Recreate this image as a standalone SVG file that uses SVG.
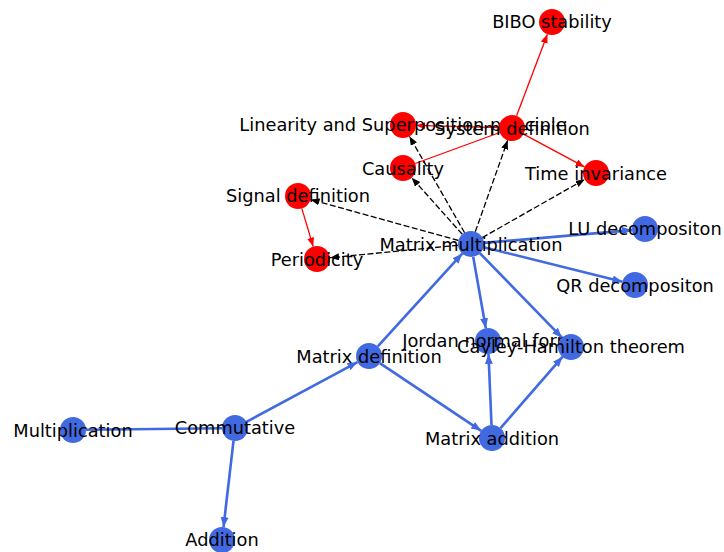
<svg xmlns="http://www.w3.org/2000/svg" width="724" height="552" viewBox="0 0 724 552">
<defs>
<style>
.b{stroke:#4169E1;stroke-width:2.6;fill:none}
.r{stroke:#FF0000;stroke-width:1.3;fill:none}
.k{stroke:#000;stroke-width:1.3;fill:none;stroke-dasharray:6,2.5}
.nb{fill:#4169E1}
.nr{fill:#FF0000}
text{font-family:"DejaVu Sans",sans-serif;font-size:17.8px;fill:#000;text-anchor:middle;dominant-baseline:central}
</style>
<marker id="ab" markerUnits="userSpaceOnUse" markerWidth="11" markerHeight="9" refX="10" refY="4" orient="auto"><path d="M0,0 L10,4 L0,8 z" fill="#4169E1"/></marker>
<marker id="ar" markerUnits="userSpaceOnUse" markerWidth="10" markerHeight="8" refX="9" refY="3.5" orient="auto"><path d="M0,0 L9,3.5 L0,7 z" fill="#FF0000"/></marker>
<marker id="ak" markerUnits="userSpaceOnUse" markerWidth="10" markerHeight="8" refX="9" refY="3.5" orient="auto"><path d="M0,0 L9,3.5 L0,7 z" fill="#000"/></marker>
</defs>
<rect width="724" height="552" fill="#fff"/>
<g id="edges">
<path class="b" d="M222,428.2 L86,429.8"/>
<path class="b" d="M233.5,440.9 L223.5,527.1" marker-end="url(#ab)"/>
<path class="b" d="M246.5,421.8 L357.5,362.1" marker-end="url(#ab)"/>
<path class="b" d="M377.8,346.4 L462.2,253.6" marker-end="url(#ab)"/>
<path class="b" d="M379.8,363.2 L481.2,430.8" marker-end="url(#ab)"/>
<path class="b" d="M484,242.9 L632,230.1" marker-end="url(#ab)"/>
<path class="b" d="M483.6,247.2 L622.4,281.8" marker-end="url(#ab)"/>
<path class="b" d="M473.2,256.8 L485.8,328.2" marker-end="url(#ab)"/>
<path class="b" d="M480,253.3 L562,337.7" marker-end="url(#ab)"/>
<path class="b" d="M491.5,425 L488.5,354" marker-end="url(#ab)"/>
<path class="b" d="M500.5,428.2 L562.5,356.8" marker-end="url(#ab)"/>
<path class="r" d="M516.6,115.8 L547.4,34.2" marker-end="url(#ar)"/>
<path class="r" d="M523.5,134.1 L584.5,166.9" marker-end="url(#ar)"/>
<path class="r" d="M499.8,132.5 L415.2,163.5"/>
<path class="r" d="M499,127.6 L416,125.4" marker-end="url(#ar)"/>
<path class="r" d="M301.8,208.4 L313.2,246.6" marker-end="url(#ar)"/>
<path class="k" d="M458.5,240.5 L310.5,199.5" marker-end="url(#ak)"/>
<path class="k" d="M458,245.3 L330,257.7" marker-end="url(#ak)"/>
<path class="k" d="M462.3,234.3 L411.7,177.7" marker-end="url(#ak)"/>
<path class="k" d="M464.6,232.7 L409.4,136.3" marker-end="url(#ak)"/>
<path class="k" d="M475.3,231.7 L507.7,140.3" marker-end="url(#ak)"/>
<path class="k" d="M482.3,237.6 L584.7,179.4" marker-end="url(#ak)"/>
</g>
<g id="n-multiplication"><circle class="nb" cx="73" cy="430" r="13"/><text x="73" y="430">Multiplication</text></g>
<g id="n-commutative"><circle class="nb" cx="235" cy="428" r="13"/><text x="235" y="427">Commutative</text></g>
<g id="n-addition"><circle class="nb" cx="222" cy="540" r="13"/><text x="222" y="539">Addition</text></g>
<g id="n-matrix-definition"><circle class="nb" cx="369" cy="356" r="13"/><text x="369" y="356">Matrix definition</text></g>
<g id="n-matrix-addition"><circle class="nb" cx="492" cy="438" r="13"/><text x="492" y="438">Matrix addition</text></g>
<g id="n-jordan"><circle class="nb" cx="488" cy="341" r="13"/><text x="488" y="340">Jordan normal form</text></g>
<g id="n-cayley"><circle class="nb" cx="571" cy="347" r="13"/><text x="571" y="346">Cayley-Hamilton theorem</text></g>
<g id="n-matrix-multiplication"><circle class="nb" cx="471" cy="244" r="13"/><text x="471" y="244">Matrix multiplication</text></g>
<g id="n-lu"><circle class="nb" cx="645" cy="229" r="13"/><text x="645" y="228">LU decompositon</text></g>
<g id="n-qr"><circle class="nb" cx="635" cy="285" r="13"/><text x="635" y="285">QR decompositon</text></g>
<g id="n-periodicity"><circle class="nr" cx="317" cy="259" r="13"/><text x="317" y="259">Periodicity</text></g>
<g id="n-signal"><circle class="nr" cx="298" cy="196" r="13"/><text x="298" y="195">Signal definition</text></g>
<g id="n-causality"><circle class="nr" cx="403" cy="168" r="13"/><text x="403" y="168">Causality</text></g>
<g id="n-linearity"><circle class="nr" cx="403" cy="125" r="13"/><text x="403" y="124">Linearity and Superposition principle</text></g>
<g id="n-system"><circle class="nr" cx="512" cy="128" r="13"/><text x="512" y="128">System definition</text></g>
<g id="n-time"><circle class="nr" cx="596" cy="173" r="13"/><text x="596" y="173">Time invariance</text></g>
<g id="n-bibo"><circle class="nr" cx="552" cy="22" r="13"/><text x="552" y="21">BIBO stability</text></g>
</svg>
